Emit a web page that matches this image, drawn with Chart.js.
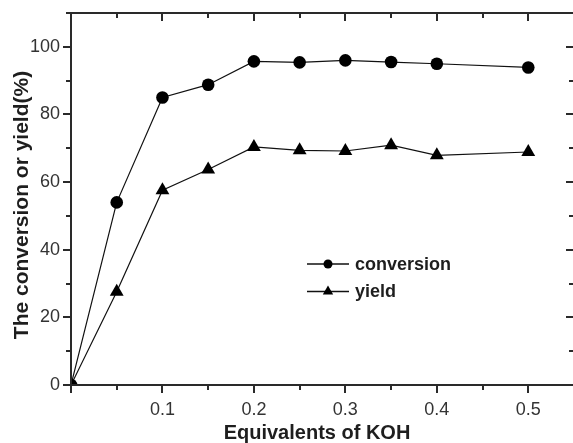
<!DOCTYPE html>
<html><head><meta charset="utf-8">
<script src="https://cdn.jsdelivr.net/npm/chart.js@4/dist/chart.umd.min.js"></script>
<style>html,body{margin:0;padding:0;background:#fff;overflow:hidden;width:573px;height:443px}
#wrap{position:absolute;left:0;top:0;width:583px;height:443px}</style>
</head><body><div id="wrap"><canvas id="c" width="583" height="443"></canvas></div>
<script>
const equivalents = [0, 0.05, 0.1, 0.15, 0.2, 0.25, 0.3, 0.35, 0.4, 0.5];
const conversion = [0, 54, 85, 88.8, 95.7, 95.4, 96, 95.5, 95.0, 93.9];
const yieldPct = [0, 27.6, 57.6, 63.7, 70.4, 69.4, 69.2, 70.9, 67.9, 68.9];
const xTickLabels = ['0.1', '0.2', '0.3', '0.4', '0.5'];
const yTickLabels = ['0', '20', '40', '60', '80', '100'];
const seriesNames = ['conversion', 'yield'];
const xTitle = 'Equivalents of KOH';
const yTitle = 'The conversion or yield(%)';

const CANVAS_W = 583;
const PLOT = {left: 71, top: 13, right: 574, bottom: 385};
const AXIS_COLOR = '#2a2a2a';
const isMajorX = v => Math.abs(v * 10 - Math.round(v * 10)) < 1e-6;
const isMajorY = v => Math.abs(v / 20 - Math.round(v / 20)) < 1e-6;

function seg(ctx, x1, y1, x2, y2) { ctx.beginPath(); ctx.moveTo(x1, y1); ctx.lineTo(x2, y2); ctx.stroke(); }

const framePlugin = {
  id: 'frame',
  afterDraw(chart) {
    const {ctx, chartArea: a, scales: {x, y}} = chart;
    ctx.save();
    ctx.strokeStyle = AXIS_COLOR; ctx.lineWidth = 2;
    ctx.strokeRect(a.left, a.top, a.right - a.left, a.bottom - a.top);
    x.ticks.forEach(t => {
      const px = Math.round(x.getPixelForValue(t.value));
      const len = isMajorX(t.value) ? 8 : 5;
      seg(ctx, px, a.bottom, px, a.bottom + len);
      seg(ctx, px, a.top, px, a.top + len);
    });
    y.ticks.forEach(t => {
      const py = Math.round(y.getPixelForValue(t.value));
      const len = isMajorY(t.value) ? 8 : 5;
      seg(ctx, a.left - len, py, a.left, py);
      seg(ctx, a.right - len, py, a.right, py);
    });
    // axis titles
    ctx.fillStyle = '#1e1e1e';
    ctx.textAlign = 'center'; ctx.textBaseline = 'alphabetic';
    ctx.font = 'bold 20px "Liberation Sans", Arial, sans-serif';
    ctx.fillText(xTitle, 317, 439);
    ctx.save();
    ctx.translate(28, 205);
    ctx.rotate(-Math.PI / 2);
    ctx.font = 'bold 21px "Liberation Sans", Arial, sans-serif';
    ctx.fillText(yTitle, 0, 0);
    ctx.restore();
    // legend
    const rows = [{y: 264, style: 'circle'}, {y: 291.5, style: 'triangle'}];
    ctx.font = 'bold 18px "Liberation Sans", Arial, sans-serif';
    ctx.textAlign = 'left'; ctx.textBaseline = 'middle';
    rows.forEach((r, i) => {
      ctx.strokeStyle = '#111'; ctx.lineWidth = 1.3;
      seg(ctx, 307, r.y, 349, r.y);
      ctx.fillStyle = '#000';
      ctx.beginPath();
      if (r.style === 'circle') {
        ctx.arc(328, r.y, 4.5, 0, Math.PI * 2);
      } else {
        const rr = 6;
        ctx.moveTo(328, r.y - rr);
        ctx.lineTo(328 + rr * Math.sin(2 * Math.PI / 3), r.y - rr * Math.cos(2 * Math.PI / 3));
        ctx.lineTo(328 + rr * Math.sin(4 * Math.PI / 3), r.y - rr * Math.cos(4 * Math.PI / 3));
        ctx.closePath();
      }
      ctx.fill();
      ctx.fillStyle = '#1e1e1e';
      ctx.fillText(seriesNames[i], 355, r.y + 1);
    });
    ctx.restore();
  }
};

const tickFont = {family: '"Liberation Sans", Arial, sans-serif', size: 18};

new Chart(document.getElementById('c').getContext('2d'), {
  type: 'line',
  data: {
    datasets: [
      {
        label: seriesNames[0],
        data: equivalents.map((v, i) => ({x: v, y: conversion[i]})),
        borderColor: '#111', borderWidth: 1.2, tension: 0,
        pointStyle: 'circle', pointRadius: 6.3,
        pointBackgroundColor: '#000', pointBorderColor: '#000', pointBorderWidth: 0,
        clip: 0
      },
      {
        label: seriesNames[1],
        data: equivalents.map((v, i) => ({x: v, y: yieldPct[i]})),
        borderColor: '#111', borderWidth: 1.2, tension: 0,
        pointStyle: 'triangle', pointRadius: 8,
        pointBackgroundColor: '#000', pointBorderColor: '#000', pointBorderWidth: 0,
        clip: 0
      }
    ]
  },
  options: {
    responsive: false, animation: false, devicePixelRatio: 1,
    layout: {padding: {left: 0, top: PLOT.top, right: CANVAS_W - PLOT.right, bottom: 0}},
    plugins: {legend: {display: false}, tooltip: {enabled: false}},
    scales: {
      x: {
        type: 'linear', min: 0, max: 0.55,
        afterFit(s) { s.height = 443 - PLOT.bottom; s.paddingLeft = 0; s.paddingRight = 0; s.paddingTop = 0; s.paddingBottom = 0; },
        grid: {display: false, drawTicks: false},
        border: {display: false},
        ticks: {
          stepSize: 0.05, autoSkip: false, maxRotation: 0, minRotation: 0, padding: 14,
          color: '#333', font: tickFont,
          callback: v => { const s = Number(v).toFixed(1); return isMajorX(v) && xTickLabels.includes(s) ? s : ''; }
        }
      },
      y: {
        type: 'linear', min: 0, max: 110,
        afterFit(s) { s.width = PLOT.left; s.paddingTop = 0; s.paddingBottom = 0; s.paddingLeft = 0; s.paddingRight = 0; },
        grid: {display: false, drawTicks: false},
        border: {display: false},
        ticks: {
          stepSize: 10, padding: 11, color: '#333', font: tickFont,
          callback: v => yTickLabels.includes(String(v)) ? String(v) : ''
        }
      }
    }
  },
  plugins: [framePlugin]
});
</script></body></html>
